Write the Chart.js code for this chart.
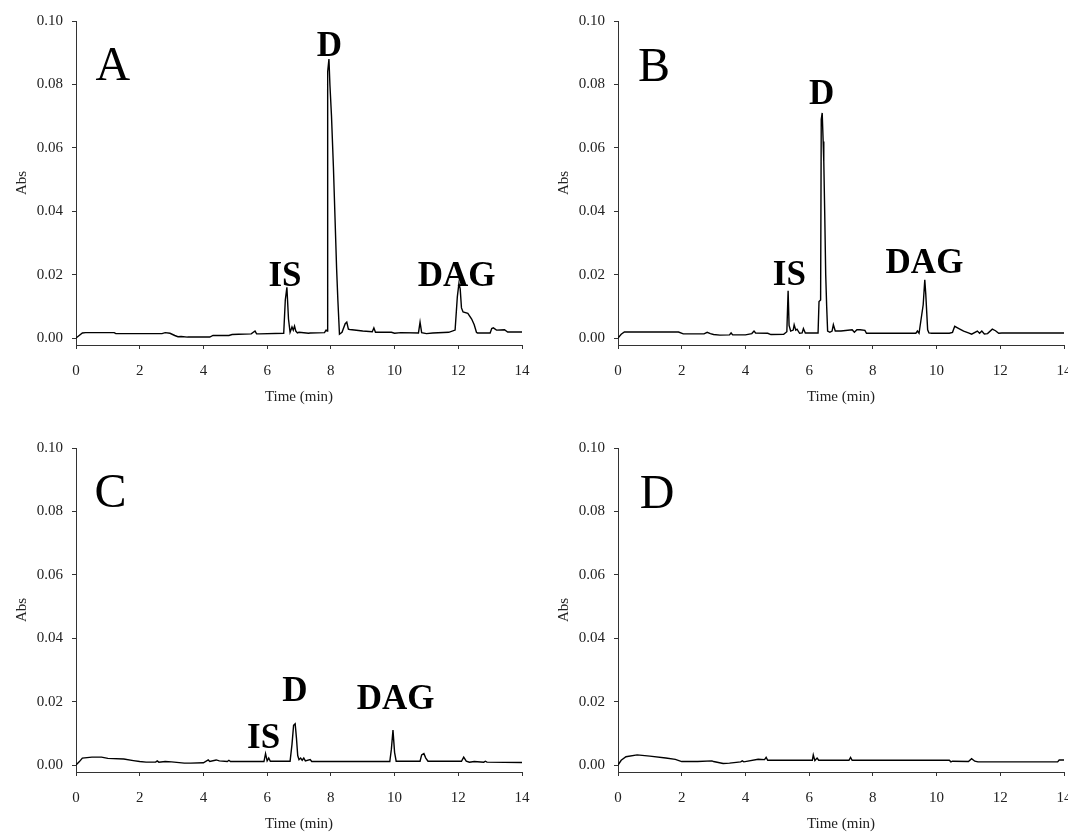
<!DOCTYPE html>
<html lang="en">
<head>
<meta charset="utf-8"/>
<title>Chromatograms A-D</title>
<script src="https://cdn.jsdelivr.net/npm/chart.js@4.4.0/dist/chart.umd.min.js"></script>
<style>
  html, body { margin: 0; padding: 0; background: #fff; }
  body { position: relative; width: 1068px; height: 834px; overflow: hidden; }
  canvas { position: absolute; }
</style>
</head>
<body>
<canvas id="chartA" width="534" height="417" style="left:0px; top:0px"></canvas>
<canvas id="chartB" width="534" height="417" style="left:542px; top:0px"></canvas>
<canvas id="chartC" width="534" height="417" style="left:0px; top:427px"></canvas>
<canvas id="chartD" width="534" height="417" style="left:542px; top:427px"></canvas>
<script>
// axis ticks
const xTicks = [0, 2, 4, 6, 8, 10, 12, 14];
const yTicks = [0, 0.02, 0.04, 0.06, 0.08, 0.10];

// panel A trace (time in min, absorbance)
const timeA = [
  0, 0.1, 0.2, 0.3, 1.2, 1.25, 2.7, 2.8, 2.95, 3.1,
  3.2, 3.3, 3.5, 4.2, 4.3, 4.8, 4.9, 5.1, 5.5, 5.62,
  5.67, 5.75, 6.52, 6.57, 6.62, 6.67, 6.72, 6.78, 6.82, 6.86,
  6.9, 6.95, 7.0, 7.3, 7.35, 7.8, 7.85, 7.88, 7.9, 7.94,
  7.97, 8.02, 8.08, 8.13, 8.18, 8.22, 8.27, 8.35, 8.45, 8.5,
  8.55, 8.6, 9.0, 9.3, 9.35, 9.4, 9.9, 10.0, 10.2, 10.75,
  10.8, 10.85, 11.0, 11.2, 11.7, 11.9, 11.97, 12.02, 12.06, 12.1,
  12.15, 12.3, 12.42, 12.5, 12.57, 12.6, 13.0, 13.05, 13.1, 13.2,
  13.45, 13.55, 14
];
const absA = [
  0, 0.0008, 0.0016, 0.0017, 0.0017, 0.0014, 0.0014, 0.0017, 0.0015, 0.0008,
  0.0004, 0.0005, 0.0003, 0.0003, 0.0008, 0.0008, 0.0011, 0.0012, 0.0013, 0.0022,
  0.0013, 0.0013, 0.0015, 0.012, 0.016, 0.006, 0.0018, 0.0035, 0.0025, 0.0038,
  0.0022, 0.0016, 0.0018, 0.0015, 0.0016, 0.0017, 0.0025, 0.0022, 0.084, 0.088,
  0.08, 0.07, 0.054, 0.038, 0.022, 0.012, 0.0012, 0.0018, 0.0045, 0.005,
  0.0028, 0.0027, 0.0022, 0.002, 0.0032, 0.0018, 0.0018, 0.0015, 0.0017, 0.0016,
  0.005, 0.0017, 0.0014, 0.0016, 0.0018, 0.0025, 0.013, 0.0172, 0.0155, 0.0095,
  0.0082, 0.0078, 0.006, 0.0042, 0.0018, 0.0016, 0.0016, 0.003, 0.0032, 0.0025,
  0.0026, 0.0019, 0.0019
];

// panel B trace
const timeB = [
  0, 0.1, 0.2, 1.9, 2.05, 2.7, 2.8, 2.9, 3.0, 3.2,
  3.5, 3.55, 3.6, 4.0, 4.2, 4.27, 4.32, 4.7, 4.8, 5.2,
  5.3, 5.34, 5.37, 5.42, 5.5, 5.53, 5.58, 5.62, 5.7, 5.78,
  5.82, 5.88, 6.28, 6.31, 6.36, 6.38, 6.41, 6.44, 6.46, 6.49,
  6.52, 6.55, 6.58, 6.65, 6.72, 6.76, 6.82, 7.0, 7.35, 7.42,
  7.5, 7.6, 7.75, 7.8, 8.5, 9.35, 9.4, 9.45, 9.58, 9.63,
  9.66, 9.72, 9.76, 9.85, 10.4, 10.5, 10.57, 10.7, 10.85, 11.0,
  11.1, 11.28, 11.35, 11.42, 11.5, 11.6, 11.75, 11.85, 11.95, 12.05,
  14
];
const absB = [
  0, 0.0012, 0.0019, 0.0019, 0.0013, 0.0013, 0.0018, 0.0014, 0.0011, 0.0009,
  0.001, 0.0016, 0.001, 0.001, 0.0014, 0.0022, 0.0016, 0.0015, 0.0011, 0.0012,
  0.002, 0.0149, 0.004, 0.0022, 0.0025, 0.0042, 0.0025, 0.0028, 0.0015, 0.0016,
  0.003, 0.0016, 0.0016, 0.0115, 0.012, 0.069, 0.071, 0.062, 0.0556, 0.0388,
  0.02, 0.01, 0.0022, 0.0018, 0.0022, 0.0042, 0.0022, 0.0022, 0.0026, 0.0018,
  0.0026, 0.0026, 0.0024, 0.0015, 0.0015, 0.0015, 0.0022, 0.0015, 0.0105, 0.0184,
  0.014, 0.0026, 0.0016, 0.0015, 0.0015, 0.0018, 0.0037, 0.003, 0.0022, 0.0016,
  0.0012, 0.0022, 0.0015, 0.0022, 0.0013, 0.0014, 0.0028, 0.0023, 0.0015, 0.0016,
  0.0016
];

// panel C trace
const timeC = [
  0, 0.1, 0.2, 0.5, 0.8, 1.0, 1.5, 1.8, 2.0, 2.2,
  2.5, 2.55, 2.6, 2.8, 3.0, 3.4, 3.6, 4.0, 4.15, 4.2,
  4.4, 4.5, 4.75, 4.8, 4.85, 5.9, 5.95, 6.0, 6.05, 6.1,
  6.72, 6.78, 6.83, 6.88, 6.92, 6.96, 7.0, 7.05, 7.1, 7.15,
  7.2, 7.35, 7.4, 7.8, 9.85, 9.9, 9.95, 10.0, 10.05, 10.8,
  10.85, 10.92, 10.98, 11.05, 12.1, 12.17, 12.25, 12.35, 12.5, 12.8,
  12.85, 12.9, 14
];
const absC = [
  0, 0.001, 0.0022, 0.0025, 0.0025, 0.0021, 0.0019, 0.0014, 0.0011, 0.0009,
  0.0009, 0.0013, 0.0009, 0.0011, 0.001, 0.0006, 0.0006, 0.0007, 0.0016, 0.0011,
  0.0016, 0.0013, 0.0011, 0.0015, 0.0011, 0.0011, 0.0036, 0.0013, 0.0022, 0.0012,
  0.0012, 0.0065, 0.0125, 0.013, 0.0085, 0.003, 0.0017, 0.0022, 0.0015, 0.0022,
  0.0013, 0.0017, 0.0011, 0.0011, 0.0011, 0.005, 0.011, 0.004, 0.0012, 0.0012,
  0.0032, 0.0036, 0.0022, 0.0012, 0.0012, 0.0025, 0.0012, 0.0009, 0.0011, 0.0009,
  0.0012, 0.0009, 0.0008
];

// panel D trace (blank)
const timeD = [
  0, 0.1, 0.25, 0.6, 1.0, 1.5, 1.8, 2.0, 2.5, 2.95,
  3.0, 3.3, 3.5, 3.85, 3.9, 3.95, 4.4, 4.6, 4.65, 4.7,
  6.1, 6.13, 6.18, 6.25, 6.3, 7.25, 7.3, 7.35, 10.4, 10.45,
  10.5, 11.0, 11.1, 11.2, 11.3, 13.8, 13.85, 14
];
const absD = [
  0, 0.0015, 0.0026, 0.0032, 0.0028, 0.0022, 0.0018, 0.0011, 0.0011, 0.0013,
  0.0011, 0.0005, 0.0006, 0.001, 0.0013, 0.001, 0.0018, 0.0017, 0.0024, 0.0015,
  0.0015, 0.0032, 0.0014, 0.0022, 0.0015, 0.0015, 0.0024, 0.0015, 0.0015, 0.001,
  0.0012, 0.0011, 0.002, 0.0012, 0.001, 0.001, 0.0016, 0.0016
];

// peak names and where their labels sit (time, abs of text baseline)
const peakNames = ['IS', 'D', 'DAG'];
const peakTimeA = [6.56, 7.95, 11.95];
const peakAbsA = [0.0164, 0.0889, 0.0164];
const peakTimeB = [5.38, 6.39, 9.62];
const peakAbsB = [0.0166, 0.0737, 0.0205];
const peakTimeC = [5.89, 6.87, 10.03];
const peakAbsC = [0.0055, 0.0202, 0.0176];

const panelLetters = ['A', 'B', 'C', 'D'];
const letterTime = [1.16, 1.13, 1.08, 1.23];
const letterAbs = [0.0814, 0.0811, 0.0813, 0.081];

const serif = '"Liberation Serif", "Times New Roman", serif';
const inkColor = '#222';

function makeLabelPlugin(idx, names, times, values) {
  return {
    id: 'peakLabels' + idx,
    afterDatasetsDraw(chart) {
      const ctx = chart.ctx;
      const x = chart.scales.x, y = chart.scales.y;
      ctx.save();
      ctx.fillStyle = '#000';
      ctx.textAlign = 'center';
      ctx.textBaseline = 'alphabetic';
      ctx.font = '48px ' + serif;
      ctx.fillText(panelLetters[idx], x.getPixelForValue(letterTime[idx]), y.getPixelForValue(letterAbs[idx]));
      ctx.font = 'bold 35px ' + serif;
      names.forEach((n, i) => {
        ctx.fillText(n, x.getPixelForValue(times[i]), y.getPixelForValue(values[i]));
      });
      ctx.restore();
    }
  };
}

function makePanel(canvasId, idx, times, values, names, peakTimes, peakValues) {
  const points = times.map((t, i) => ({ x: t, y: values[i] }));
  const axisLine = { display: true, color: '#333', width: 1 };
  const tickMarks = { display: true, drawOnChartArea: false, drawTicks: true, tickLength: 4, tickWidth: 1, tickColor: '#333' };
  return new Chart(document.getElementById(canvasId), {
    type: 'line',
    data: {
      datasets: [{
        data: points,
        borderColor: '#000',
        borderWidth: 1.4,
        pointRadius: 0,
        tension: 0,
        fill: false
      }]
    },
    options: {
      responsive: false,
      animation: false,
      devicePixelRatio: 1,
      layout: { padding: { top: 21, right: 12, bottom: 0, left: 0 } },
      plugins: { legend: { display: false }, tooltip: { enabled: false } },
      scales: {
        x: {
          type: 'linear',
          min: 0,
          max: 14,
          afterBuildTicks: s => { s.ticks = xTicks.map(v => ({ value: v })); },
          // fixed plot frame: drop the label overflow padding
          afterFit: s => { s.height = 72; s.paddingLeft = 0; s.paddingRight = 0; },
          grid: tickMarks,
          border: axisLine,
          ticks: { color: inkColor, font: { family: serif, size: 15 }, padding: 13, maxRotation: 0 },
          title: { display: true, text: 'Time (min)', color: inkColor, font: { family: serif, size: 15 }, padding: { top: 0, bottom: 11 } }
        },
        y: {
          type: 'linear',
          min: -0.0022,
          max: 0.1,
          afterBuildTicks: s => { s.ticks = yTicks.map(v => ({ value: v })); },
          afterFit: s => { s.width = 76; s.paddingTop = 0; s.paddingBottom = 0; },
          grid: tickMarks,
          border: axisLine,
          ticks: { color: inkColor, font: { family: serif, size: 15 }, padding: 9, callback: v => Number(v).toFixed(2) },
          title: { display: true, text: 'Abs', color: inkColor, font: { family: serif, size: 15 }, padding: { top: 13, bottom: 0 } }
        }
      }
    },
    plugins: [makeLabelPlugin(idx, names, peakTimes, peakValues)]
  });
}

makePanel('chartA', 0, timeA, absA, peakNames, peakTimeA, peakAbsA);
makePanel('chartB', 1, timeB, absB, peakNames, peakTimeB, peakAbsB);
makePanel('chartC', 2, timeC, absC, peakNames, peakTimeC, peakAbsC);
makePanel('chartD', 3, timeD, absD, [], [], []);
</script>
</body>
</html>
